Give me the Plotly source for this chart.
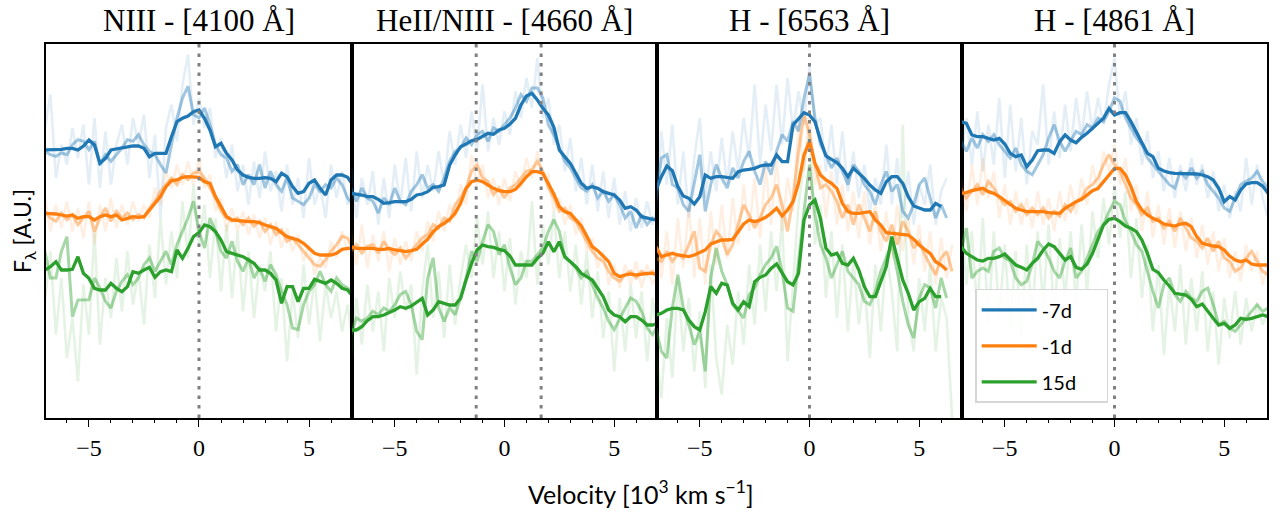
import plotly.graph_objects as go
from plotly.subplots import make_subplots

# ---------------- data ----------------
velocity = [-7.0, -6.75, -6.5, -6.25, -6.0, -5.75, -5.5, -5.25, -5.0, -4.75, -4.5, -4.25,
            -4.0, -3.75, -3.5, -3.25, -3.0, -2.75, -2.5, -2.25, -2.0, -1.75, -1.5, -1.25,
            -1.0, -0.75, -0.5, -0.25, 0.0, 0.25, 0.5, 0.75, 1.0, 1.25, 1.5, 1.75,
            2.0, 2.25, 2.5, 2.75, 3.0, 3.25, 3.5, 3.75, 4.0, 4.25, 4.5, 4.75,
            5.0, 5.25, 5.5, 5.75, 6.0, 6.25, 6.5, 6.75, 7.0]

epochs = ["-7d", "-1d", "15d"]
titles = ["NIII - [4100 Å]", "HeII/NIII - [4660 Å]", "H - [6563 Å]", "H - [4861 Å]"]
line_markers = [[0.0], [-1.29, 1.67], [0.0], [0.0]]

# Panel 1: NIII 4100
n4100_m7_raw = [870, 970, 720, 820, 760, 870, 780, 880, 700, 900, 690, 860, 700, 820, 880, 760, 900, 820, 910, 720, 850, 600, 870, 940, 830, 1000, 1090, 880, 960, 870, 930, 780, 840, 720, 820, 680, 760, 640, 770, 660, 800, 680, 740, 620, 760, 640, 720, 600, 780, 640, 700, 600, 760, 660, 740, 640, 700]
n4100_m7_smooth = [800, 790, 785, 795, 790, 820, 835, 830, 805, 830, 760, 790, 770, 790, 810, 835, 830, 850, 820, 800, 790, 760, 735, 820, 900, 960, 995, 910, 900, 930, 880, 820, 790, 780, 740, 760, 700, 730, 700, 760, 690, 740, 700, 680, 720, 660, 650, 640, 660, 700, 680, 700, 690, 720, 700, 660, 640]
n4100_m7_mean = [804, 804, 804, 806, 809, 809, 804, 816, 834, 819, 764, 779, 804, 807, 809, 812, 816, 816, 809, 784, 794, 794, 794, 844, 889, 899, 906, 919, 924, 899, 864, 814, 824, 794, 774, 744, 729, 722, 719, 719, 721, 719, 709, 734, 724, 694, 674, 679, 704, 714, 689, 669, 714, 729, 729, 722, 699]
n4100_m1_raw = [660, 560, 640, 570, 650, 560, 630, 540, 650, 520, 640, 560, 660, 570, 640, 580, 650, 590, 640, 600, 690, 640, 740, 690, 760, 700, 770, 700, 780, 690, 730, 620, 660, 560, 630, 560, 620, 550, 610, 540, 600, 520, 590, 510, 570, 500, 550, 470, 520, 430, 480, 450, 530, 480, 560, 500, 540]
n4100_m1_smooth = [620, 600, 590, 615, 595, 610, 580, 600, 620, 560, 600, 630, 590, 620, 600, 615, 595, 610, 600, 630, 650, 680, 700, 720, 700, 730, 715, 735, 740, 720, 690, 660, 620, 600, 590, 600, 580, 600, 575, 590, 560, 580, 550, 565, 530, 540, 520, 500, 480, 460, 455, 475, 500, 520, 545, 540, 510]
n4100_m1_mean = [614, 614, 612, 609, 606, 609, 599, 604, 604, 594, 604, 609, 604, 609, 594, 599, 604, 602, 604, 624, 644, 664, 694, 712, 714, 722, 724, 724, 722, 709, 704, 664, 634, 604, 594, 592, 589, 589, 589, 586, 579, 574, 569, 556, 544, 539, 534, 524, 509, 494, 489, 489, 489, 494, 506, 509, 509]
n4100_p15_raw = [350, 500, 250, 420, 180, 300, 110, 400, 250, 560, 220, 420, 300, 480, 320, 500, 340, 440, 280, 520, 360, 600, 400, 560, 420, 650, 480, 700, 520, 640, 420, 600, 380, 580, 360, 560, 320, 500, 300, 460, 380, 500, 260, 420, 170, 380, 240, 460, 280, 420, 230, 400, 300, 380, 260, 340, 220]
n4100_p15_smooth = [500, 420, 420, 500, 544, 304, 354, 354, 355, 420, 390, 350, 330, 380, 410, 430, 400, 420, 460, 480, 440, 470, 500, 460, 520, 560, 600, 650, 560, 510, 600, 560, 500, 480, 530, 470, 440, 480, 420, 450, 410, 460, 430, 380, 340, 270, 265, 340, 380, 400, 440, 400, 380, 420, 400, 390, 380]
n4100_p15_mean = [444, 454, 469, 444, 444, 446, 484, 434, 419, 389, 384, 384, 404, 389, 379, 394, 439, 434, 444, 452, 422, 439, 444, 439, 504, 479, 509, 544, 556, 579, 574, 559, 534, 499, 494, 489, 484, 474, 464, 444, 444, 434, 414, 344, 394, 394, 349, 389, 389, 416, 409, 404, 414, 404, 389, 384, 364]

# Panel 2: HeII/NIII 4660
he4660_m7_raw = [760, 600, 720, 640, 740, 580, 720, 600, 760, 640, 780, 620, 800, 660, 760, 680, 800, 700, 860, 760, 880, 780, 920, 800, 1000, 800, 900, 820, 920, 850, 980, 900, 1020, 930, 1080, 900, 960, 820, 880, 740, 840, 680, 780, 640, 760, 620, 740, 600, 720, 580, 680, 560, 660, 570, 650, 580, 640]
he4660_m7_smooth = [690, 650, 690, 660, 650, 615, 660, 640, 690, 650, 640, 680, 700, 730, 690, 700, 680, 720, 770, 800, 810, 840, 820, 850, 860, 830, 870, 860, 880, 900, 930, 970, 950, 990, 990, 960, 880, 850, 810, 770, 750, 720, 690, 680, 700, 660, 680, 650, 670, 640, 600, 620, 570, 610, 580, 600, 590]
he4660_m7_mean = [674, 672, 669, 664, 664, 656, 644, 646, 649, 649, 649, 656, 669, 672, 679, 692, 694, 699, 759, 789, 814, 822, 832, 836, 844, 854, 851, 864, 869, 882, 899, 939, 966, 974, 954, 929, 909, 872, 804, 784, 764, 734, 704, 689, 694, 689, 679, 674, 669, 654, 629, 634, 624, 604, 599, 596, 594]
he4660_m1_raw = [560, 460, 580, 450, 550, 470, 560, 440, 540, 460, 530, 470, 560, 500, 590, 530, 620, 560, 640, 600, 700, 640, 790, 700, 760, 660, 720, 640, 720, 650, 740, 690, 780, 720, 800, 720, 730, 620, 660, 580, 640, 550, 600, 500, 540, 450, 500, 400, 460, 390, 460, 400, 470, 390, 460, 400, 450]
he4660_m1_smooth = [500, 520, 495, 515, 520, 495, 530, 505, 490, 510, 480, 500, 520, 540, 550, 580, 570, 600, 590, 640, 660, 690, 740, 760, 720, 710, 670, 690, 660, 690, 700, 720, 740, 745, 770, 740, 690, 660, 620, 630, 600, 590, 560, 530, 500, 480, 470, 440, 420, 410, 430, 440, 420, 440, 430, 440, 420]
he4660_m1_mean = [514, 509, 509, 509, 509, 506, 506, 509, 504, 502, 499, 502, 506, 522, 536, 559, 574, 584, 596, 614, 644, 689, 709, 714, 709, 699, 689, 682, 679, 679, 686, 704, 724, 739, 739, 734, 704, 672, 634, 619, 614, 596, 576, 546, 514, 502, 486, 469, 434, 424, 429, 432, 429, 432, 434, 434, 429]
he4660_p15_raw = [180, 360, 220, 400, 260, 380, 200, 420, 300, 440, 320, 400, 130, 380, 520, 300, 440, 240, 460, 280, 420, 520, 420, 600, 460, 620, 420, 560, 380, 540, 340, 500, 420, 650, 400, 580, 460, 620, 420, 560, 380, 520, 340, 500, 300, 440, 240, 380, 140, 360, 200, 400, 240, 380, 170, 360, 220]
he4660_p15_smooth = [250, 300, 290, 300, 320, 310, 330, 320, 340, 370, 380, 340, 260, 235, 420, 480, 330, 290, 330, 310, 360, 420, 500, 470, 530, 580, 560, 490, 520, 450, 400, 420, 470, 470, 490, 510, 560, 595, 560, 480, 470, 450, 420, 440, 400, 360, 330, 290, 265, 300, 330, 360, 350, 320, 270, 250, 280]
he4660_p15_mean = [264, 264, 274, 292, 304, 304, 309, 316, 324, 334, 329, 336, 349, 359, 309, 324, 349, 344, 339, 339, 359, 414, 464, 504, 519, 514, 512, 506, 502, 486, 459, 459, 459, 459, 479, 494, 529, 499, 529, 484, 469, 454, 434, 424, 414, 389, 364, 324, 309, 304, 289, 304, 304, 294, 279, 279, 284]

# Panel 3: H 6563
h6563_m7_raw = [620, 860, 700, 880, 640, 800, 600, 780, 900, 660, 800, 680, 840, 700, 860, 740, 900, 780, 1000, 760, 940, 800, 1000, 820, 1020, 860, 980, 880, 1060, 880, 900, 740, 880, 700, 860, 680, 800, 660, 760, 620, 720, 640, 820, 640, 780, 600, 740, 580, 700, 640, 760, 580, 680, 720, None, None, None]
h6563_m7_smooth = [650, 780, 790, 700, 690, 640, 620, 700, 790, 620, 700, 760, 720, 690, 750, 720, 770, 800, 740, 700, 770, 730, 800, 850, 830, 890, 860, 960, 1030, 900, 820, 790, 750, 780, 740, 700, 760, 740, 700, 680, 640, 700, 740, 680, 700, 620, 600, 640, 700, 720, 660, 600, 640, 600, None, None, None]
h6563_m7_mean = [684, 724, 756, 742, 694, 666, 659, 642, 664, 729, 719, 724, 724, 722, 719, 739, 744, 746, 749, 756, 759, 759, 789, 769, 769, 879, 899, 916, 909, 889, 834, 786, 776, 766, 749, 724, 749, 734, 719, 699, 684, 674, 709, 724, 724, 704, 664, 636, 629, 624, 624, 644, 634, None, None, None, None]
h6563_m1_raw = [580, 420, 560, 400, 600, 450, 640, 420, 600, 400, 620, 460, 640, 480, 660, 520, 700, 560, 720, 540, 760, 580, 780, 560, 720, 620, 880, 740, 920, 700, 760, 600, 740, 580, 700, 560, 680, 540, 680, 520, 640, 500, 620, 480, 640, 500, 600, 460, 580, 440, 560, 400, 540, 420, 520, None, None]
h6563_m1_smooth = [480, 470, 500, 470, 490, 480, 520, 560, 450, 440, 520, 560, 540, 490, 520, 580, 640, 610, 570, 600, 640, 660, 700, 640, 560, 660, 800, 910, 850, 760, 690, 700, 680, 650, 600, 640, 580, 640, 600, 560, 620, 560, 530, 580, 520, 590, 560, 510, 530, 490, 460, 430, 480, 500, 440, None, None]
h6563_m1_mean = [514, 484, 489, 494, 489, 486, 484, 489, 496, 504, 522, 529, 534, 534, 536, 559, 582, 594, 589, 594, 602, 614, 629, 606, 624, 649, 704, 789, 829, 764, 729, 714, 704, 689, 644, 619, 614, 614, 616, 619, 594, 579, 556, 554, 554, 552, 549, 536, 519, 506, 494, 469, 459, 444, None, None, None]
h6563_p15_raw = [200, 60, 300, 120, 420, 200, 360, 140, 320, 90, 460, 180, 70, 280, 160, 380, 220, 460, 280, 520, 320, 560, 380, 600, 170, 420, 640, 760, 860, 520, 640, 360, 560, 300, 520, 260, 480, 280, 420, 180, 460, 260, 500, 380, 200, 880, 300, 200, 420, 260, 460, 200, 360, 300, 0, None, None]
h6563_p15_smooth = [270, 200, 180, 330, 430, 330, 280, 220, 260, 140, 420, 510, 440, 400, 340, 320, 300, 370, 390, 430, 460, 480, 515, 440, 330, 320, 480, 620, 760, 610, 520, 480, 420, 460, 500, 440, 420, 400, 350, 340, 380, 440, 480, 520, 440, 350, 280, 240, 360, 400, 390, 330, 420, 360, None, None, None]
h6563_p15_mean = [309, 314, 324, 329, 329, 324, 294, 274, 264, 319, 394, 374, 404, 399, 344, 324, 349, 334, 409, 422, 429, 449, 462, 434, 409, 399, 434, 594, 639, 654, 599, 509, 489, 494, 464, 459, 479, 444, 394, 364, 364, 409, 454, 544, 474, 414, 374, 324, 349, 359, 389, 364, 364, None, None, None, None]

# Panel 4: H 4861
h4861_m7_raw = [780, 900, 760, 920, 740, 880, 760, 960, 720, 940, 740, 900, 700, 860, 820, 1000, 760, 920, 780, 940, 800, 960, 840, 980, 860, 960, 880, 1000, 1080, 900, 980, 820, 900, 760, 860, 720, 800, 680, 780, 660, 760, 680, 780, 700, 760, 660, 740, 620, 700, 600, 680, 620, 780, 640, 760, 660, 600]
h4861_m7_smooth = [830, 800, 840, 810, 850, 830, 850, 820, 800, 780, 810, 760, 740, 730, 760, 790, 840, 880, 830, 800, 830, 860, 850, 880, 870, 900, 890, 920, 960, 950, 900, 870, 840, 820, 780, 760, 740, 720, 700, 690, 740, 720, 750, 720, 740, 700, 680, 660, 630, 620, 660, 700, 710, 720, 740, 710, 690]
h4861_m7_mean = [889, 884, 849, 844, 844, 839, 834, 839, 822, 794, 784, 789, 754, 774, 802, 804, 804, 794, 829, 849, 834, 826, 842, 854, 869, 884, 899, 929, 909, 916, 916, 889, 859, 824, 794, 784, 749, 741, 736, 734, 734, 734, 734, 732, 729, 724, 714, 689, 649, 664, 654, 684, 702, 706, 706, 696, 674]
h4861_m1_raw = [720, 620, 760, 640, 780, 660, 740, 600, 700, 580, 680, 580, 660, 570, 680, 580, 660, 560, 680, 590, 700, 610, 720, 640, 760, 680, 800, 740, 820, 700, 780, 620, 700, 560, 680, 540, 640, 520, 630, 510, 620, 500, 600, 480, 580, 460, 560, 440, 540, 420, 500, 410, 520, 440, 500, 400, 460]
h4861_m1_smooth = [690, 660, 680, 700, 670, 710, 690, 660, 640, 650, 620, 640, 610, 630, 610, 630, 600, 620, 605, 640, 620, 650, 660, 690, 700, 720, 760, 790, 760, 740, 700, 660, 640, 610, 630, 590, 600, 570, 590, 560, 600, 570, 540, 530, 510, 540, 500, 530, 480, 470, 440, 450, 480, 500, 470, 440, 430]
h4861_m1_mean = [674, 676, 682, 686, 689, 679, 674, 664, 652, 639, 629, 624, 619, 619, 619, 619, 616, 614, 614, 629, 639, 649, 656, 669, 682, 689, 709, 729, 749, 749, 729, 694, 649, 624, 609, 599, 592, 582, 579, 576, 582, 584, 574, 544, 524, 519, 516, 514, 504, 486, 474, 469, 474, 462, 459, 459, 459]
h4861_p15_raw = [640, 400, 560, 320, 600, 280, 560, 300, 520, 260, 500, 240, 520, 300, 560, 340, 580, 300, 540, 360, 560, 340, 580, 380, 620, 480, 660, 520, 700, 540, 680, 420, 600, 360, 520, 260, 460, 190, 400, 260, 460, 220, 420, 260, 440, 200, 380, 160, 360, 240, 380, 220, 360, 260, 340, 280, 320]
h4861_p15_smooth = [500, 570, 420, 440, 450, 440, 500, 510, 480, 470, 420, 400, 410, 460, 530, 510, 480, 440, 420, 470, 510, 420, 440, 480, 520, 560, 580, 620, 650, 640, 590, 560, 520, 500, 440, 380, 330, 400, 420, 370, 350, 380, 360, 350, 380, 390, 340, 280, 290, 270, 260, 280, 300, 320, 340, 320, 330]
h4861_p15_mean = [514, 494, 484, 474, 471, 479, 479, 484, 492, 474, 459, 452, 444, 464, 479, 504, 522, 514, 494, 474, 484, 452, 446, 462, 494, 539, 579, 596, 599, 589, 576, 569, 559, 534, 494, 446, 436, 414, 396, 374, 372, 369, 356, 334, 342, 319, 299, 279, 284, 269, 279, 299, 296, 299, 304, 309, 304]

panel_data = [
    [(n4100_m7_raw, n4100_m7_smooth, n4100_m7_mean),
     (n4100_m1_raw, n4100_m1_smooth, n4100_m1_mean),
     (n4100_p15_raw, n4100_p15_smooth, n4100_p15_mean)],
    [(he4660_m7_raw, he4660_m7_smooth, he4660_m7_mean),
     (he4660_m1_raw, he4660_m1_smooth, he4660_m1_mean),
     (he4660_p15_raw, he4660_p15_smooth, he4660_p15_mean)],
    [(h6563_m7_raw, h6563_m7_smooth, h6563_m7_mean),
     (h6563_m1_raw, h6563_m1_smooth, h6563_m1_mean),
     (h6563_p15_raw, h6563_p15_smooth, h6563_p15_mean)],
    [(h4861_m7_raw, h4861_m7_smooth, h4861_m7_mean),
     (h4861_m1_raw, h4861_m1_smooth, h4861_m1_mean),
     (h4861_p15_raw, h4861_p15_smooth, h4861_p15_mean)],
]

# ---------------- style ----------------
rgb = [(31, 119, 180), (255, 127, 14), (44, 160, 44)]
SERIF = "Liberation Serif, DejaVu Serif, serif"
SANS = "Lato, Liberation Sans, DejaVu Sans, sans-serif"
PAD = "\u00a0" * 5  # widen legend box like the reference

fig = make_subplots(rows=1, cols=4, horizontal_spacing=0)

layer_styles = ((0, 0.12, 2.6), (1, 0.42, 3.0), (2, 1.0, 3.3))
for p, series in enumerate(panel_data):
    col = p + 1
    for layer, alpha, lw in layer_styles:
        for e, trio in enumerate(series):
            r, g, b = rgb[e]
            fig.add_trace(
                go.Scatter(
                    x=velocity, y=trio[layer], mode="lines",
                    line=dict(color=f"rgba({r},{g},{b},{alpha})", width=lw),
                    name=epochs[e] + PAD, legendgroup=epochs[e],
                    showlegend=(layer == 2 and p == 0),
                    connectgaps=False, hoverinfo="skip",
                ),
                row=1, col=col,
            )
    for v in line_markers[p]:
        fig.add_vline(x=v, row=1, col=col,
                      line=dict(color="rgba(128,128,128,1)", width=3, dash="3.5px,6px"))

axis_common = dict(showline=True, mirror=True, linecolor="black", linewidth=1.5,
                   showgrid=False, zeroline=False)
domains = [[0.0, 0.2506], [0.2506, 0.5004], [0.5004, 0.7502], [0.7502, 1.0]]
for i in range(4):
    sfx = "" if i == 0 else str(i + 1)
    fig.layout["xaxis" + sfx].update(
        domain=domains[i], range=[-6.95, 6.95],
        tickmode="array", tickvals=[-5, 0, 5],
        ticks="outside", ticklen=7, tickwidth=1.3, tickcolor="black",
        minor=dict(dtick=1, tick0=0, ticks="outside", ticklen=3.5, tickwidth=1, tickcolor="black"),
        tickfont=dict(family=SERIF, size=24, color="black"),
        **axis_common)
    fig.layout["yaxis" + sfx].update(
        range=[0, 1122], showticklabels=False, ticks="", **axis_common)

annotations = []
for i, t in enumerate(titles):
    annotations.append(dict(text=t, x=(domains[i][0] + domains[i][1]) / 2, y=1.064,
                            xref="paper", yref="paper", showarrow=False,
                            xanchor="center", yanchor="middle",
                            font=dict(family=SERIF, size=31, color="black")))
annotations.append(dict(text="Velocity [10<sup>3</sup> km s<sup>−1</sup>]", x=0.487, y=-0.2,
                        xref="paper", yref="paper", showarrow=False,
                        xanchor="center", yanchor="middle",
                        font=dict(family=SANS, size=25, color="black")))
annotations.append(dict(text="F<sub>λ</sub> [A.U.]", x=-0.0188, y=0.5,
                        xref="paper", yref="paper", showarrow=False, textangle=-90,
                        xanchor="center", yanchor="middle",
                        font=dict(family=SANS, size=23, color="black")))

fig.update_layout(
    width=1282, height=512,
    margin=dict(l=46, r=15, t=44, b=94),
    paper_bgcolor="white", plot_bgcolor="white",
    annotations=annotations,
    showlegend=True,
    legend=dict(x=0.761, y=0.345, xanchor="left", yanchor="top",
                bgcolor="rgba(255,255,255,0.85)", bordercolor="#d6d6d6", borderwidth=1.5,
                font=dict(family=SANS, size=20, color="black"),
                itemwidth=55, traceorder="grouped", tracegroupgap=7),
)

fig.write_html("out.html", config={"displayModeBar": False},
               post_script="document.body.style.margin='0px';")
